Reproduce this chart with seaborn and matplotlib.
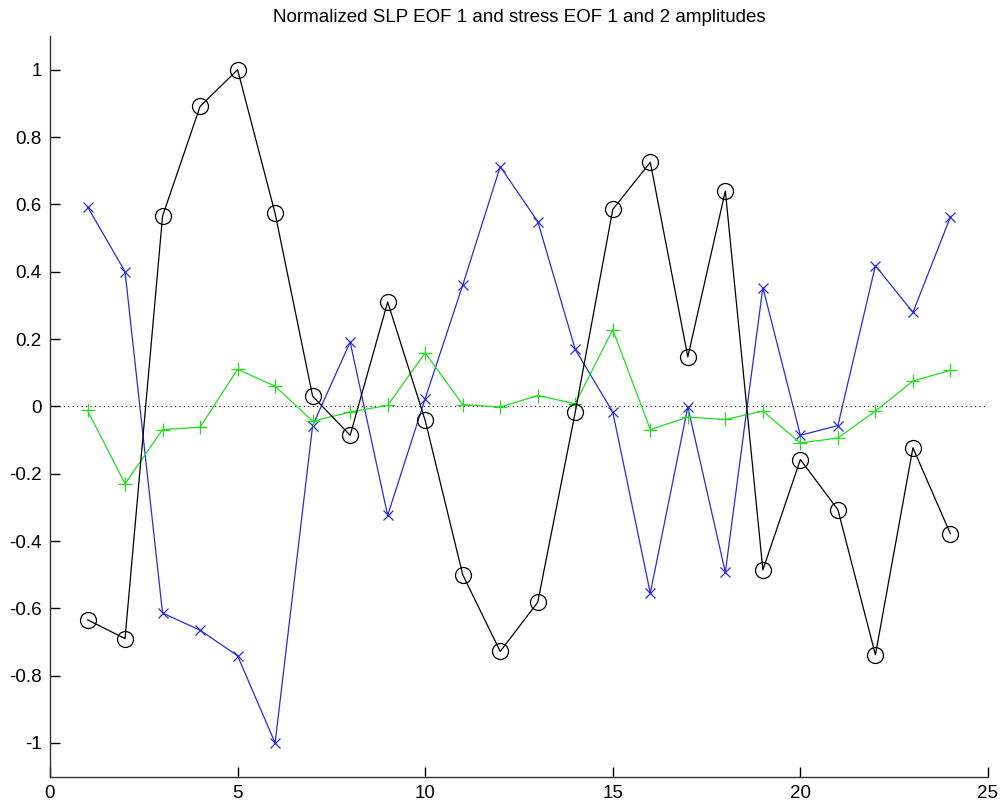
"""Normalized SLP EOF 1 and stress EOF 1/2 amplitudes (MATLAB-style line plot)."""

import matplotlib

matplotlib.use("Agg")
import matplotlib.pyplot as plt
import seaborn as sns

MONTHS = list(range(1, 25))

SLP_EOF1 = [
    -0.634, -0.690, 0.565, 0.891, 1.000, 0.573, 0.030, -0.086, 0.310, -0.042,
    -0.500, -0.728, -0.582, -0.017, 0.585, 0.725, 0.147, 0.640, -0.486, -0.158,
    -0.307, -0.738, -0.123, -0.379,
]
STRESS_EOF1 = [
    0.593, 0.400, -0.614, -0.665, -0.741, -1.000, -0.057, 0.191, -0.324, 0.023,
    0.360, 0.712, 0.549, 0.169, -0.017, -0.555, -0.002, -0.493, 0.353, -0.086,
    -0.057, 0.418, 0.279, 0.563,
]
STRESS_EOF2 = [
    -0.012, -0.230, -0.069, -0.062, 0.110, 0.060, -0.044, -0.017, 0.003, 0.159,
    0.005, -0.002, 0.032, 0.008, 0.228, -0.069, -0.032, -0.039, -0.014, -0.109,
    -0.094, -0.014, 0.075, 0.107,
]

X_TICKS = [0, 5, 10, 15, 20, 25]
Y_TICKS = [-1, -0.8, -0.6, -0.4, -0.2, 0, 0.2, 0.4, 0.6, 0.8, 1]
Y_TICK_LABELS = ["-1", "-0.8", "-0.6", "-0.4", "-0.2", "0", "0.2", "0.4", "0.6", "0.8", "1"]


def main() -> None:
    sns.set_style("ticks")
    plt.rcParams["font.family"] = ["Liberation Sans", "DejaVu Sans"]
    plt.rcParams["axes.unicode_minus"] = False

    fig = plt.figure(figsize=(10.02, 8.08), dpi=100)
    ax = fig.add_axes([0.0499, 0.0388, 0.9361, 0.9166])

    # zero reference line
    ax.axhline(0, color="black", linestyle=(0, (1, 3)), linewidth=0.8, zorder=1)

    sns.lineplot(x=MONTHS, y=STRESS_EOF1, ax=ax, color="#2a2ad8", linewidth=0.9,
                 marker="x", markersize=7, markeredgecolor="#2a2ad8",
                 markeredgewidth=0.9)
    sns.lineplot(x=MONTHS, y=STRESS_EOF2, ax=ax, color="#22dd22", linewidth=0.9,
                 marker="+", markersize=10, markeredgecolor="#22dd22",
                 markeredgewidth=0.9)
    sns.lineplot(x=MONTHS, y=SLP_EOF1, ax=ax, color="black", linewidth=0.9,
                 marker="o", markersize=11.5, markerfacecolor="none",
                 markeredgecolor="black", markeredgewidth=0.9)

    ax.set_xlim(0, 25)
    ax.set_ylim(-1.1, 1.1)
    ax.set_xticks(X_TICKS)
    ax.set_yticks(Y_TICKS)
    ax.set_yticklabels(Y_TICK_LABELS)
    ax.tick_params(direction="in", length=7.5, width=1, labelsize=13.5,
                   colors="black", pad=6)
    for side in ("top", "right"):
        ax.spines[side].set_visible(False)
    for side in ("left", "bottom"):
        ax.spines[side].set_linewidth(1.0)
        ax.spines[side].set_color("#333333")

    ax.set_title("Normalized SLP EOF 1 and stress EOF 1 and 2 amplitudes",
                 fontsize=13.5, pad=10, color="black")

    fig.savefig("out.png", dpi=100)
    plt.close(fig)


if __name__ == "__main__":
    main()
